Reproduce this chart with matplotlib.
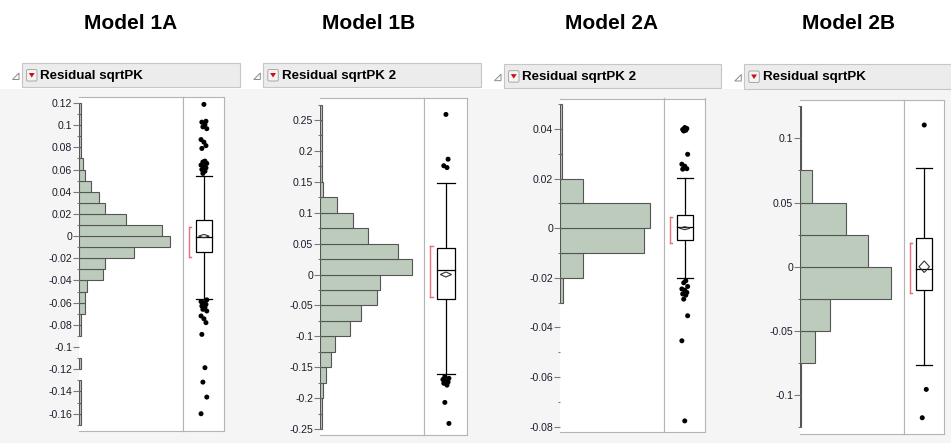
import numpy as np
import matplotlib
matplotlib.use("Agg")
import matplotlib.pyplot as plt
from matplotlib.patches import Rectangle, Polygon, FancyBboxPatch
from matplotlib.ticker import FixedLocator, FuncFormatter

# ---- data ----
titles = ["Model 1A", "Model 1B", "Model 2A", "Model 2B"]
headers = ["Residual sqrtPK", "Residual sqrtPK 2", "Residual sqrtPK 2", "Residual sqrtPK"]

# histogram bin edges (bottom..top) and bar counts
edges_1a = np.round(np.arange(-0.17, 0.1201, 0.01), 3)
counts_1a = [1, 1, 1, 1, 0, 1, 0, 0, 1, 1, 3, 3, 4, 12, 13, 27, 45,
             41, 23, 13, 10, 6, 3, 2, 1, 1, 1, 1, 1]
edges_1b = np.round(np.arange(-0.25, 0.2751, 0.025), 3)
counts_1b = [1, 1, 2, 4, 7, 10, 20, 27, 38, 40, 61, 52, 32, 22, 11, 2,
             1, 1, 1, 1, 1]
edges_2a = np.round(np.arange(-0.08, 0.0501, 0.01), 3)
counts_2a = [0, 0, 0, 0, 0, 2, 15, 56, 60, 15, 1, 1, 1]
edges_2b = np.round(np.arange(-0.125, 0.1251, 0.025), 3)
counts_2b = [1, 1, 10, 20, 61, 46, 31, 8, 1, 1]

# box plot summaries: q1, median, q3, low whisker, high whisker, mean, mean CI half width,
# shortest half (low, high)
box_1a = [-0.0144, -0.001, 0.0141, -0.0565, 0.054, 0.0, 0.0015, -0.019, 0.008]
box_1b = [-0.040, 0.008, 0.043, -0.161, 0.148, 0.0, 0.004, -0.036, 0.046]
box_2a = [-0.0048, 0.0005, 0.0054, -0.020, 0.0204, 0.0, 0.0006, -0.0058, 0.0047]
box_2b = [-0.0184, -0.0018, 0.0226, -0.0769, 0.0772, 0.0, 0.0045, -0.0208, 0.0182]

outliers_1a = [0.1187, 0.1035, 0.1027, 0.1005, 0.0985, 0.0968, 0.0870, 0.0847, 0.0815,
               0.0790, 0.0676, 0.0668, 0.0655, 0.0640, 0.0628, 0.0615, 0.0600, 0.0585,
               0.0565, -0.0575, -0.0590, -0.0600, -0.0615, -0.0630, -0.0640, -0.0660,
               -0.0675, -0.0720, -0.0745, -0.0780, -0.0886, -0.1186, -0.1316, -0.1451,
               -0.1601]
outliers_1b = [0.259, 0.1866, 0.176, 0.173, -0.165, -0.168, -0.170, -0.172, -0.174,
               -0.176, -0.179, -0.207, -0.241]
outliers_2a = [0.0406, 0.0402, 0.0398, 0.0395, 0.0392, 0.0298, 0.0258, 0.0250, 0.0240,
               0.0238, -0.0212, -0.0220, -0.0235, -0.0245, -0.0250, -0.0259, -0.0265,
               -0.0270, -0.0286, -0.0353, -0.0454, -0.0777]
outliers_2b = [0.1104, -0.0956, -0.1177]

major_ticks = [np.round(np.arange(-0.16, 0.1201, 0.02), 3),
               np.round(np.arange(-0.25, 0.2501, 0.05), 3),
               np.round(np.arange(-0.08, 0.0401, 0.02), 3),
               np.round(np.arange(-0.10, 0.1001, 0.05), 3)]
minor_ticks = [np.round(np.arange(-0.17, 0.1201, 0.01), 3),
               np.round(np.arange(-0.25, 0.2751, 0.025), 3),
               np.round(np.arange(-0.08, 0.0501, 0.01), 3),
               np.round(np.arange(-0.125, 0.1251, 0.025), 3)]

edges = [edges_1a, edges_1b, edges_2a, edges_2b]
counts = [counts_1a, counts_1b, counts_2a, counts_2b]
boxes = [box_1a, box_1b, box_2a, box_2b]
outliers = [outliers_1a, outliers_1b, outliers_2a, outliers_2b]

# ---- layout (pixels) ----
W, H = 951, 443
plot_left = [79, 320, 560, 800]
plot_div = [183, 424, 663.7, 903.7]
plot_right = [224, 467, 705, 944]
plot_top = [97.3, 97.5, 98.5, 100]
plot_bottom = [430.7, 435, 432.3, 434.3]
ylims = [(-0.1754, 0.1251), (-0.2597, 0.2864), (-0.0823, 0.0523), (-0.1306, 0.1299)]
xlims = [51.4, 69.0, 68.8, 69.7]
head_left = [22, 263.3, 504, 744.3]
head_right = [240, 481, 721, 960]
head_top = [62.7, 62.7, 64, 64]
head_bottom = [87.3, 87.3, 88.3, 89]
title_x = [130.5, 369, 611.5, 848.5]

bar_face = "#bccbbc"
bar_edge = "#555555"
frame_col = "#b4b4b4"
jitter = [0.0, 0.05, -0.05, 0.025, -0.025, 0.07, -0.07]


def tick_fmt(v, pos):
    if abs(v) < 1e-9:
        return "0"
    return f"{round(v, 3):g}"


fig = plt.figure(figsize=(W / 100, H / 100), dpi=100)
fig.patch.set_facecolor("white")

bg = fig.add_axes([0, 0, 1, 1], zorder=-1)
bg.set_xlim(0, W)
bg.set_ylim(H, 0)
bg.axis("off")
bg.add_patch(Rectangle((0, 89), W, H - 89, facecolor="#f5f5f5", edgecolor="none"))

for i in range(4):
    bg.text(title_x[i], 23.5, titles[i], ha="center", va="center", fontsize=15,
            fontweight="bold", family=["Liberation Sans Narrow", "Liberation Sans"])
    hl, hr, ht, hb = head_left[i], head_right[i], head_top[i], head_bottom[i]
    bg.add_patch(Rectangle((hl, ht), hr - hl, hb - ht, facecolor="#ececec",
                           edgecolor="#c6c6c6", lw=0.8))
    cy = (ht + hb) / 2 + 1
    bg.add_patch(Polygon([(hl - 9.5, cy + 3.5), (hl - 3, cy + 3.5), (hl - 3, cy - 3)],
                         closed=True, facecolor="none", edgecolor="#8a8a8a", lw=0.7))
    bg.add_patch(FancyBboxPatch((hl + 4.5, cy - 6.5), 10.5, 11.5,
                                boxstyle="round,pad=0,rounding_size=1.5",
                                facecolor="#f4f4f4", edgecolor="#a8a8a8", lw=0.7))
    bg.add_patch(Polygon([(hl + 6.8, cy - 3), (hl + 12.7, cy - 3), (hl + 9.75, cy + 1.5)],
                         closed=True, facecolor="#d01010", edgecolor="none"))
    bg.text(hl + 18.5, cy - 0.5, headers[i], ha="left", va="center", fontsize=9.6,
            fontweight="bold", family=["Liberation Sans Narrow", "Liberation Sans"])

    # histogram axes
    x0, xd, x1 = plot_left[i], plot_div[i], plot_right[i]
    yt, yb = plot_top[i], plot_bottom[i]
    ax = fig.add_axes([x0 / W, 1 - yb / H, (xd - x0) / W, (yb - yt) / H])
    e = edges[i]
    c = np.array(counts[i], dtype=float)
    keep = c > 0
    ax.barh(e[:-1][keep], c[keep], height=np.diff(e)[keep], align="edge",
            color=bar_face, edgecolor=bar_edge, linewidth=0.8)
    ax.set_ylim(*ylims[i])
    ax.set_xlim(0, xlims[i])
    ax.set_xticks([])
    ax.spines["left"].set_visible(False)
    for s in ["top", "bottom", "right"]:
        ax.spines[s].set_color(frame_col)
        ax.spines[s].set_linewidth(0.8)
    ax.yaxis.set_major_locator(FixedLocator(major_ticks[i]))
    ax.yaxis.set_minor_locator(FixedLocator(minor_ticks[i]))
    ax.yaxis.set_major_formatter(FuncFormatter(tick_fmt))
    ax.tick_params(axis="y", which="major", length=4, width=0.8, color="#7a7a7a",
                   pad=1, labelsize=7.6, labelcolor="#1c1c2c")
    ax.tick_params(axis="y", which="minor", length=1.8, width=0.8, color="#7a7a7a")
    for lab in ax.get_yticklabels():
        lab.set_family("Liberation Sans")
    ax.set_facecolor("white")

    # box plot axes
    bx = fig.add_axes([xd / W, 1 - yb / H, (x1 - xd) / W, (yb - yt) / H])
    bx.set_ylim(*ylims[i])
    bx.set_xlim(0, 1)
    bx.set_xticks([])
    bx.set_yticks([])
    for s in bx.spines.values():
        s.set_color(frame_col)
        s.set_linewidth(0.8)
    q1, med, q3, wl, wh, mean, ci, sh_lo, sh_hi = boxes[i]
    bl, br, bc = 0.31, 0.71, 0.51
    bx.plot([bc, bc], [wl, q1], color="black", lw=0.9)
    bx.plot([bc, bc], [q3, wh], color="black", lw=0.9)
    bx.plot([bl, br], [wl, wl], color="black", lw=0.9)
    bx.plot([bl, br], [wh, wh], color="black", lw=0.9)
    bx.add_patch(Rectangle((bl, q1), br - bl, q3 - q1, facecolor="white",
                           edgecolor="black", lw=0.9, zorder=2))
    bx.plot([bl, br], [med, med], color="black", lw=0.9, zorder=3)
    bx.add_patch(Polygon([(bl + 0.07, mean), (bc, mean + ci), (br - 0.07, mean), (bc, mean - ci)],
                         closed=True, facecolor="none", edgecolor="#333333", lw=0.8, zorder=3))
    bx.plot([0.15, 0.15], [sh_lo, sh_hi], color="#e8707a", lw=1.0)
    bx.plot([0.15, 0.2], [sh_lo, sh_lo], color="#e8707a", lw=1.0)
    bx.plot([0.15, 0.2], [sh_hi, sh_hi], color="#e8707a", lw=1.0)
    pts = outliers[i]
    xs = [bc + jitter[k % len(jitter)] for k in range(len(pts))]
    bx.scatter(xs, pts, s=13, color="black", edgecolors="none", zorder=4)

fig.savefig("out.png", dpi=100)
